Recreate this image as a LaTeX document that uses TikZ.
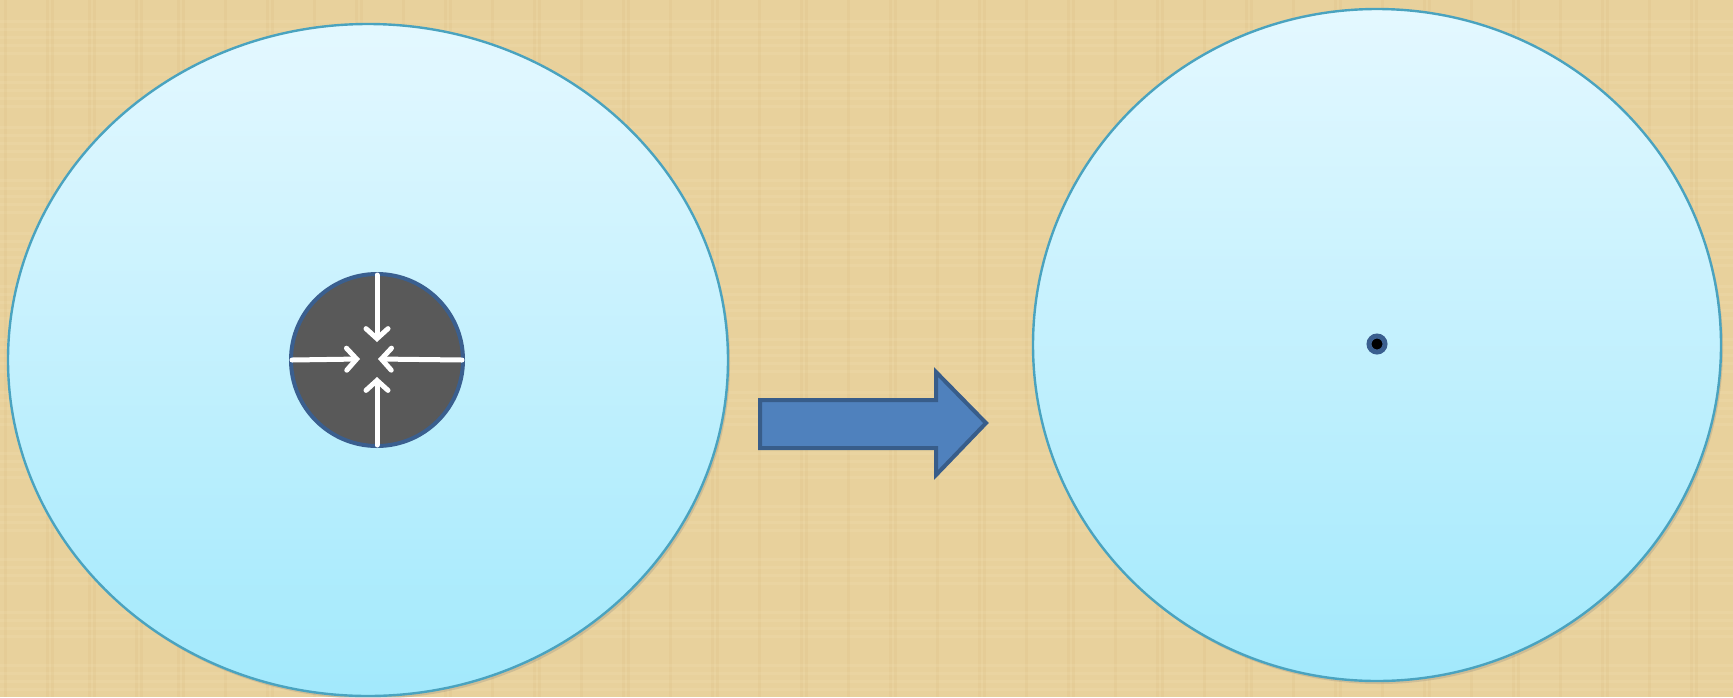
\documentclass[tikz,border=0pt]{standalone}
\usetikzlibrary{shapes.geometric,arrows.meta,shadows}
\definecolor{paper}{HTML}{E8D19C}
\definecolor{paperdark}{HTML}{D9BC7E}
\definecolor{paperlight}{HTML}{F3E2B6}
\definecolor{skytop}{HTML}{E4F8FF}
\definecolor{skybot}{HTML}{A2E9FC}
\definecolor{rimblue}{HTML}{4AA3BF}
\definecolor{darkrim}{HTML}{3A5F8F}
\definecolor{core}{HTML}{595959}
\definecolor{bigarrow}{HTML}{4F81BD}
\definecolor{bigarrowrim}{HTML}{385D8A}
\tikzset{
  blob/.style={ellipse, draw=rimblue, line width=1.2pt, inner sep=0pt,
    top color=skytop, bottom color=skybot,
    drop shadow={opacity=0.25, shadow xshift=1pt, shadow yshift=-1.5pt}},
  squeeze/.style={white, line width=2.5pt, line cap=round,
    -{Straight Barb[length=5pt,width=11pt,line cap=round]}},
  fibre/.style={line width=1.5pt, opacity=0.2}
}
\begin{document}
\begin{tikzpicture}[x=0.5pt, y=-0.5pt]
    \fill[paper] (0,0) rectangle (1733,697);
    \useasboundingbox (0,0) rectangle (1733,697);
    % faint paper fibres
    \foreach \i in {1,...,60} {
      \pgfmathsetmacro\fx{mod(\i*89,1733)}
      \pgfmathsetmacro\fy{mod(\i*53,697)}
      \draw[fibre, paperdark] (\fx,0) -- (\fx,697);
      \draw[fibre, paperlight] (0,\fy) -- (1733,\fy);
    }

    \node[blob, minimum width=360pt, minimum height=336pt] (before) at (368,360) {};
    \node[blob, minimum width=344pt, minimum height=336pt] (after) at (1377,345) {};

    \node[circle, draw=darkrim, fill=core, line width=2pt, minimum size=86pt, inner sep=0pt] (ball) at (377,360) {};
    \coordinate (tipN) at (377,342);
    \coordinate (tipS) at (377,377);
    \coordinate (tipW) at (360,359);
    \coordinate (tipE) at (378,359);
    \draw[squeeze] (ball.north) ++(0,3) -- (tipN);
    \draw[squeeze] (ball.south) ++(0,-3) -- (tipS);
    \draw[squeeze] (ball.west) ++(3,0) -- (tipW);
    \draw[squeeze] (ball.east) ++(-3,0) -- (tipE);

    \draw[fill=bigarrow, draw=bigarrowrim, line width=2pt, line join=miter]
      (760,400) -- (936,400) -- (936,372) -- (986,423) -- (936,475)
      -- (936,448) -- (760,448) -- cycle;

    \node[circle, draw=darkrim, fill=black, line width=2.5pt, minimum size=8pt, inner sep=0pt] (dot) at (1377,344) {};
\end{tikzpicture}
\end{document}
